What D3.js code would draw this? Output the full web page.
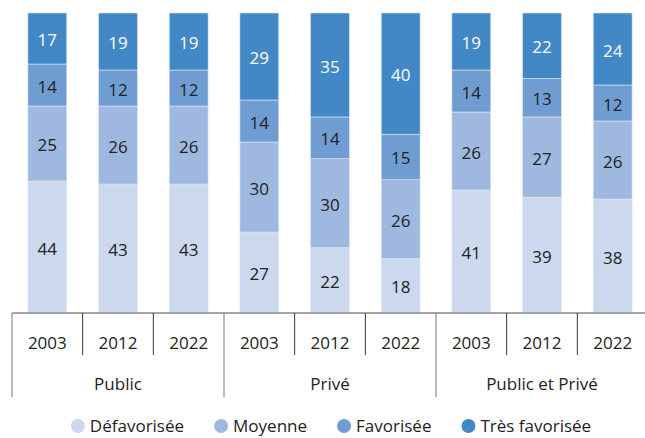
<!DOCTYPE html>
<html>
<head>
<meta charset="utf-8">
<script src="https://cdn.jsdelivr.net/npm/d3@7"></script>
<style>
  body { margin: 0; background: #fff; }
  svg text { font-family: "Open Sans", sans-serif; fill: #222; }
</style>
</head>
<body>
<div id="chart"></div>
<script>
// data
var groups = ['Public', 'Privé', 'Public et Privé']
var years = ['2003', '2012', '2022']
var categories = ['Défavorisée', 'Moyenne', 'Favorisée', 'Très favorisée']
var colors = ['#cbd8ee', '#9eb8df', '#6f9dd2', '#4287c6']

var defavorisee = [44, 43, 43, 27, 22, 18, 41, 39, 38]
var moyenne = [25, 26, 26, 30, 30, 26, 26, 27, 26]
var favorisee = [14, 12, 12, 14, 14, 15, 14, 13, 12]
var tresFavorisee = [17, 19, 19, 29, 35, 40, 19, 22, 24]

var width = 645
var height = 438
var top0 = 13
var axisY = 313
var fs = 17

var rows = []
groups.forEach((g, gi) => {
  years.forEach((y, yi) => {
    var i = gi * years.length + yi
    rows.push({
      key: g + '|' + y,
      group: g,
      year: y,
      'Défavorisée': defavorisee[i],
      'Moyenne': moyenne[i],
      'Favorisée': favorisee[i],
      'Très favorisée': tresFavorisee[i]
    })
  })
})

var svg = d3.select('#chart')
  .append('svg')
  .attr('width', width)
  .attr('height', height)

var x = d3.scaleBand()
  .domain(rows.map(d => d.key))
  .range([12, 648])
  .paddingInner(0.45)
  .paddingOuter(0.225)

var y = d3.scaleLinear()
  .domain([0, 1])
  .range([axisY, top0])

var color = d3.scaleOrdinal().domain(categories).range(colors)

var series = d3.stack()
  .keys(categories)
  .offset(d3.stackOffsetExpand)(rows)

var layer = svg.append('g')
  .selectAll('g')
  .data(series)
  .enter()
  .append('g')
  .attr('fill', d => color(d.key))

layer.selectAll('rect')
  .data(d => d)
  .enter()
  .append('rect')
  .attr('x', d => x(d.data.key))
  .attr('y', d => y(d[1]))
  .attr('width', x.bandwidth())
  .attr('height', d => y(d[0]) - y(d[1]))
  .attr('stroke', '#dce7f6')
  .attr('stroke-width', 0.6)

layer.selectAll('text')
  .data(d => d.map(p => ({ p: p, key: d.key })))
  .enter()
  .append('text')
  .attr('x', d => x(d.p.data.key) + x.bandwidth() / 2)
  .attr('y', d => (y(d.p[0]) + y(d.p[1])) / 2 + 3)
  .attr('text-anchor', 'middle')
  .attr('dominant-baseline', 'middle')
  .attr('font-size', fs)
  .style('fill', d => d.key === 'Très favorisée' ? '#fff' : '#222')
  .text(d => d.p.data[d.key])

// x axis with two levels
var axis = svg.append('g')
var step = x.step()
var x0 = x.range()[0]

axis.append('line')
  .attr('x1', x0)
  .attr('x2', x.range()[1])
  .attr('y1', axisY)
  .attr('y2', axisY)
  .attr('stroke', '#888')
  .attr('stroke-width', 1.5)

d3.range(rows.length + 1).forEach(i => {
  var major = i % years.length === 0
  axis.append('line')
    .attr('x1', x0 + i * step)
    .attr('x2', x0 + i * step)
    .attr('y1', axisY)
    .attr('y2', major ? 397 : 355)
    .attr('stroke', major ? '#777' : '#333')
    .attr('stroke-width', 1)
})

axis.selectAll('text.year')
  .data(rows)
  .enter()
  .append('text')
  .attr('class', 'year')
  .attr('x', d => x(d.key) + x.bandwidth() / 2)
  .attr('y', 344)
  .attr('text-anchor', 'middle')
  .attr('dominant-baseline', 'middle')
  .attr('font-size', fs)
  .text(d => d.year)

axis.selectAll('text.group')
  .data(groups)
  .enter()
  .append('text')
  .attr('class', 'group')
  .attr('x', (d, i) => x0 + (i + 0.5) * step * years.length)
  .attr('y', 385)
  .attr('text-anchor', 'middle')
  .attr('dominant-baseline', 'middle')
  .attr('font-size', fs)
  .text(d => d)

// legend
var legend = svg.append('g')
var lx = 0
categories.forEach((c, i) => {
  var item = legend.append('g').attr('transform', 'translate(' + lx + ',0)')
  item.append('circle')
    .attr('cx', 7)
    .attr('cy', 0)
    .attr('r', 7)
    .attr('fill', color(c))
  var t = item.append('text')
    .attr('x', 19)
    .attr('y', 1)
    .attr('dominant-baseline', 'middle')
    .attr('font-size', fs)
    .text(c)
  lx += 19 + t.node().getComputedTextLength() + 30
})
var legendW = lx - 30
legend.attr('transform', 'translate(' + (331 - legendW / 2) + ',426)')
</script>
</body>
</html>
